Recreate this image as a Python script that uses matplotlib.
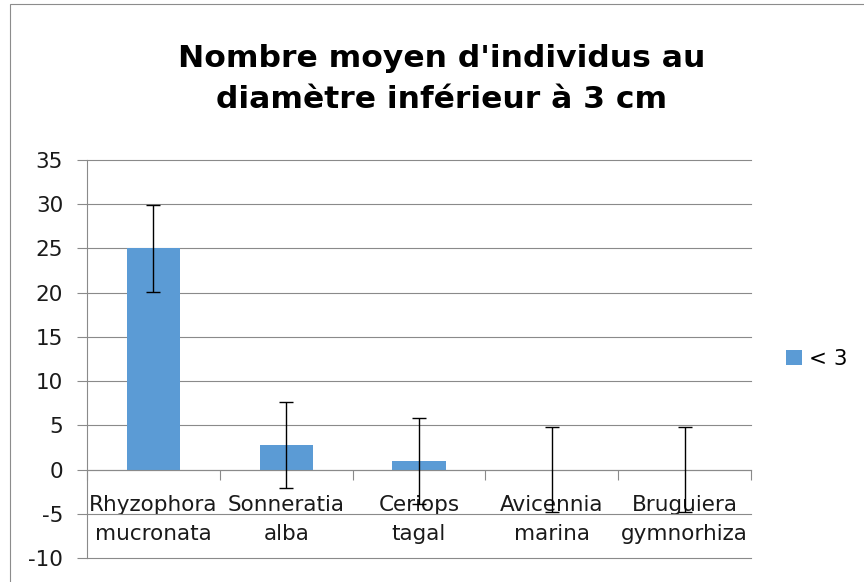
import matplotlib.pyplot as plt
from matplotlib.patches import Rectangle
import numpy as np

species = ["Rhyzophora\nmucronata", "Sonneratia\nalba", "Ceriops\ntagal",
           "Avicennia\nmarina", "Bruguiera\ngymnorhiza"]
means = [25.0, 2.75, 1.0, 0.0, 0.0]
errors = [4.9, 4.85, 4.87, 4.85, 4.85]
yticks = [-10, -5, 0, 5, 10, 15, 20, 25, 30, 35]

plt.rcParams['font.family'] = ['DejaVu Sans']
plt.rcParams['axes.unicode_minus'] = False
grid_c = '#8a8a8a'
bar_c = '#5b9bd5'

fig = plt.figure(figsize=(8.64, 5.82), dpi=100)
ax = fig.add_axes([87 / 864, 24 / 582, 664 / 864, 398 / 582])

x = np.arange(len(species))
ax.bar(x, means, width=0.4, color=bar_c, zorder=2, label='< 3')
ax.errorbar(x, means, yerr=errors, fmt='none', ecolor='black',
            elinewidth=1.0, capsize=5, capthick=1.0, zorder=4)

ax.set_xlim(-0.5, 4.5)
ax.set_ylim(-10, 35)
ax.set_yticks(yticks)
ax.yaxis.grid(True, color=grid_c, linewidth=0.8, zorder=0, clip_on=False)
ax.set_axisbelow(True)

for s in ['top', 'right']:
    ax.spines[s].set_visible(False)
ax.spines['left'].set_color(grid_c)
ax.spines['left'].set_linewidth(0.8)
ax.spines['bottom'].set_position(('data', 0))
ax.spines['bottom'].set_color(grid_c)
ax.spines['bottom'].set_linewidth(0.8)
ax.spines['bottom'].set_zorder(3)

ax.set_xticks(x)
ax.set_xticklabels(species, fontsize=15.5, linespacing=1.6)
ax.set_xticks(np.arange(-0.5, 5, 1.0), minor=True)
ax.tick_params(axis='x', which='major', length=0, pad=18, colors='#1a1a1a')
ax.tick_params(axis='x', which='minor', length=7.2, direction='out',
               color=grid_c, width=0.8)
ax.tick_params(axis='y', length=7.2, direction='out', color=grid_c,
               width=0.8, labelsize=15.5, labelcolor='#1a1a1a', pad=10)

fig.text(442 / 864, 1 - 79 / 582,
         "Nombre moyen d'individus au\ndiamètre inférieur à 3 cm",
         ha='center', va='center', fontsize=22.6, fontweight='bold',
         linespacing=1.55)

fig.legend(loc='center left', bbox_to_anchor=(786 / 864, 1 - 359 / 582),
           frameon=False, fontsize=15.5, handlelength=0.75, handleheight=0.75,
           handletextpad=0.3, borderpad=0, borderaxespad=0)

fig.patches.append(Rectangle((10 / 864, -0.1), 1.2, 1.1 - 4 / 582,
                             transform=fig.transFigure, fill=False,
                             edgecolor='#8c8c8c', linewidth=0.8))

fig.savefig('out.png', dpi=100)
